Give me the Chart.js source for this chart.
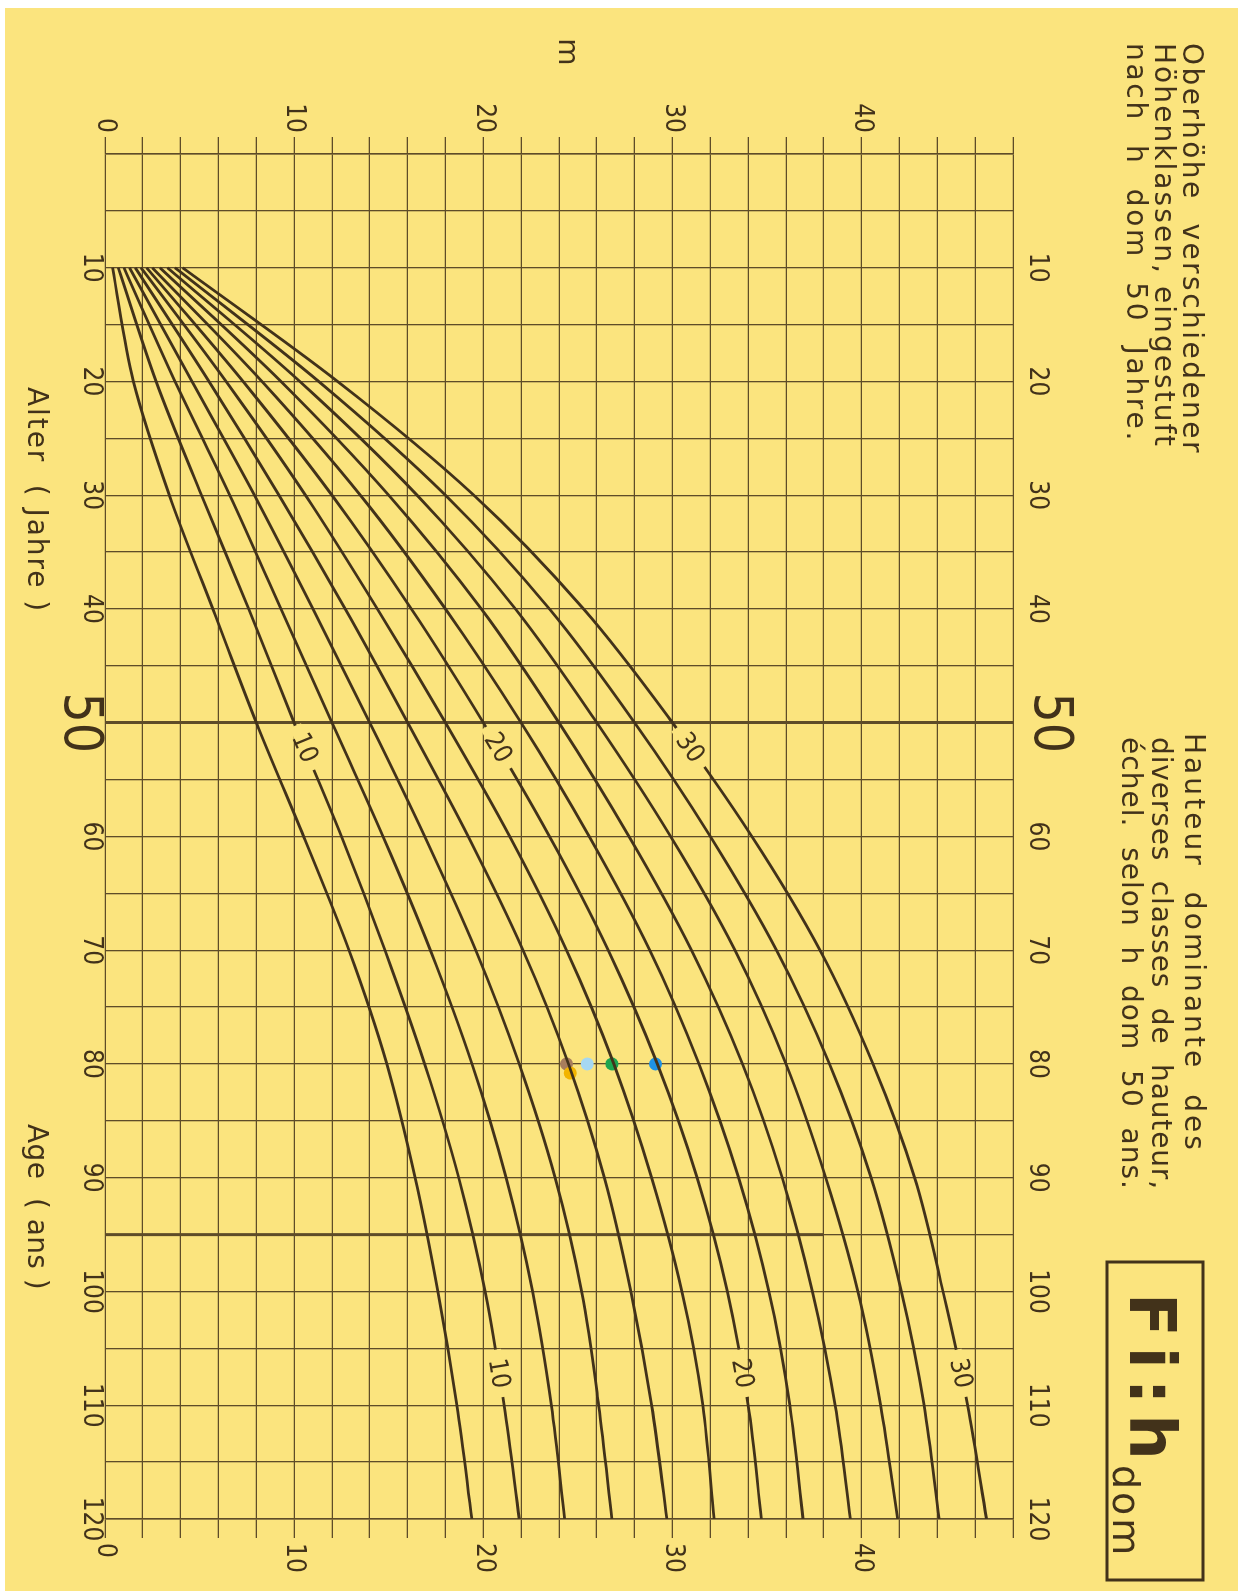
<!DOCTYPE html>
<html>
<head>
<meta charset="utf-8">
<script src="https://cdn.jsdelivr.net/npm/chart.js@4.4.0/dist/chart.umd.min.js"></script>
<style>
  html, body { margin: 0; padding: 0; background: #fff; }
  body { width: 1245px; height: 1591px; overflow: hidden; position: relative; }
  /* the chart is drawn landscape and turned a quarter clockwise, like the printed sheet */
  #wrap { position: absolute; left: 0; top: 0; width: 1591px; height: 1245px;
          transform-origin: 0 0; transform: translateX(1245px) rotate(90deg); }
</style>
</head>
<body>
<div id="wrap"><canvas id="myChart" width="1591" height="1245"></canvas></div>
<script>
// age (years) and height classes (h dom at 50 years)
var ages = [10, 20, 30, 40, 50, 60, 70, 80, 90, 100, 110, 120];
var classes = [8, 10, 12, 14, 16, 18, 20, 22, 24, 26, 28, 30];

// dominant height (m) per class, read at the ages above
var h8  = [0.4, 1.5, 3.4, 5.7, 8, 10.5, 12.9, 14.9, 16.4, 17.6, 18.6, 19.4];
var h10 = [0.7, 2.7, 5.1, 7.6, 10, 12.5, 14.8, 16.9, 18.7, 20.1, 21.1, 21.9];
var h12 = [1.0, 3.7, 6.6, 9.3, 12, 14.7, 17.2, 19.4, 21.2, 22.6, 23.6, 24.3];
var h14 = [1.3, 4.6, 7.9, 11.0, 14, 16.9, 19.6, 21.9, 23.8, 25.2, 26.1, 26.8];
var h16 = [1.6, 5.5, 9.2, 12.7, 16, 19.2, 22.1, 24.5, 26.4, 27.8, 28.9, 29.7];
var h18 = [1.9, 6.4, 10.6, 14.4, 18, 21.4, 24.4, 26.9, 28.9, 30.5, 31.6, 32.2];
var h20 = [2.2, 7.3, 12.0, 16.2, 20, 23.5, 26.6, 29.2, 31.3, 32.9, 34.0, 34.7];
var h22 = [2.5, 8.3, 13.5, 18.0, 22, 25.6, 28.8, 31.4, 33.5, 35.1, 36.2, 36.9];
var h24 = [2.9, 9.3, 15.0, 19.9, 24, 27.7, 31.0, 33.7, 35.8, 37.4, 38.6, 39.4];
var h26 = [3.3, 10.3, 16.5, 21.7, 26, 29.9, 33.3, 36.0, 38.1, 39.8, 41.0, 41.9];
var h28 = [3.7, 11.3, 18.0, 23.5, 28, 32.0, 35.5, 38.3, 40.5, 42.1, 43.3, 44.1];
var h30 = [4.1, 12.3, 19.5, 25.3, 30, 34.2, 37.8, 40.6, 42.8, 44.3, 45.6, 46.6];
var curves = [h8, h10, h12, h14, h16, h18, h20, h22, h24, h26, h28, h30];

// classes that carry a number on the curve, and where
var labelClasses = [10, 20, 30];
var labelAges = [52.2, 107.2];

// coloured marks at 80 years
var dotAges = [80, 80, 80, 80, 80.8];
var dotHeights = [24.4, 25.5, 26.8, 29.1, 24.6];
var dotColors = ['#a87d5c', '#a6d8f2', '#1ea650', '#1f93e6', '#f2b400'];

// heavy rule at 95 years, drawn up to 38 m
var ruleAges = [95, 95];
var ruleHeights = [0, 38];

var ageTicks = [10, 20, 30, 40, 50, 60, 70, 80, 90, 100, 110, 120];
var heightTicks = [0, 10, 20, 30, 40];

var bg = '#fbe47e';
var ink = '#42321a';
var gridInk = '#5e4c28';
var numFont = '"Liberation Sans Narrow", "DejaVu Sans Condensed", sans-serif';
var textFont = '"DejaVu Sans", sans-serif';

function fitText(ctx, str, x, y, w) {
  ctx.letterSpacing = '0px';
  var m = ctx.measureText(str).width;
  ctx.letterSpacing = ((w - m) / str.length) + 'px';
  ctx.fillText(str, x, y);
  ctx.letterSpacing = '0px';
}

var datasets = classes.map(function (c, i) {
  return {
    label: String(c),
    data: ages.map(function (a, j) { return { x: a, y: curves[i][j] }; }),
    borderColor: ink,
    borderWidth: 2.8,
    pointRadius: 0,
    fill: false,
    cubicInterpolationMode: 'monotone'
  };
});
datasets.push({
  label: 'rule',
  data: ruleAges.map(function (a, j) { return { x: a, y: ruleHeights[j] }; }),
  borderColor: gridInk,
  borderWidth: 3,
  pointRadius: 0,
  fill: false
});
datasets.push({
  label: 'marks',
  data: dotAges.map(function (a, j) { return { x: a, y: dotHeights[j] }; }),
  showLine: false,
  pointRadius: 6.5,
  pointBorderWidth: 0,
  pointBackgroundColor: dotColors,
  borderColor: dotColors
});

var paper = {
  id: 'paper',
  beforeDraw: function (chart) {
    var ctx = chart.ctx;
    ctx.save();
    ctx.fillStyle = '#ffffff';
    ctx.fillRect(0, 0, chart.width, chart.height);
    ctx.fillStyle = bg;
    ctx.fillRect(8, 7, 1583, 1233);
    ctx.restore();
  },
  afterDatasetsDraw: function (chart) {
    var ctx = chart.ctx;
    ctx.save();
    labelClasses.forEach(function (c) {
      var pts = chart.getDatasetMeta(classes.indexOf(c)).data;
      labelAges.forEach(function (a) {
        var j = 0;
        while (j < ages.length - 2 && ages[j + 1] < a) j++;
        var t = (a - ages[j]) / (ages[j + 1] - ages[j]);
        var p0 = pts[j], p1 = pts[j + 1];
        var x = p0.x + t * (p1.x - p0.x);
        var y = p0.y + t * (p1.y - p0.y);
        var ang = Math.atan2(p1.y - p0.y, p1.x - p0.x);
        ctx.save();
        ctx.translate(x, y);
        ctx.rotate(ang);
        ctx.fillStyle = bg;
        ctx.fillRect(-24, -6, 48, 12);
        ctx.fillStyle = ink;
        ctx.font = '26px ' + numFont;
        ctx.textAlign = 'center';
        ctx.textBaseline = 'middle';
        ctx.fillText(String(c), 0, 1);
        ctx.restore();
      });
    });
    ctx.restore();
  },
  afterDraw: function (chart) {
    var ctx = chart.ctx;
    ctx.save();
    ctx.fillStyle = ink;
    ctx.textBaseline = 'alphabetic';
    ctx.textAlign = 'left';
    ctx.font = '28px ' + textFont;
    fitText(ctx, 'Oberhöhe  verschiedener', 43, 62, 412);
    fitText(ctx, 'Höhenklassen, eingestuft', 43, 90, 405);
    fitText(ctx, 'nach  h  dom  50  Jahre.', 43, 118, 400);
    fitText(ctx, 'Hauteur  dominante  des', 733, 60, 420);
    fitText(ctx, 'diverses  classes  de  hauteur,', 737, 93, 453);
    fitText(ctx, 'échel.  selon  h  dom  50  ans.', 737, 123, 453);
    fitText(ctx, 'Alter  ( Jahre )', 387, 1217, 226);
    fitText(ctx, 'Age  ( ans )', 1124, 1217, 166);
    ctx.textAlign = 'center';
    ctx.fillText('m', 52, 686);

    // title box
    ctx.strokeStyle = ink;
    ctx.lineWidth = 3;
    ctx.strokeRect(1262, 42, 318, 96);
    ctx.textAlign = 'left';
    ctx.font = 'bold 64px ' + textFont;
    ctx.letterSpacing = '10px';
    ctx.fillText('Fi:h', 1293, 115);
    ctx.font = '38px ' + textFont;
    ctx.letterSpacing = '3px';
    ctx.fillText('dom', 1465, 132);
    ctx.letterSpacing = '0px';
    ctx.restore();
  }
};

function ageFont(ctx) {
  if (ctx.tick && ctx.tick.value === 50) return { family: numFont, size: 53, lineHeight: 1 };
  return { family: numFont, size: 26, lineHeight: 1.1 };
}
function ageLabel(v) { return ageTicks.indexOf(v) >= 0 ? String(v) : ''; }
function heightLabel(v) { return heightTicks.indexOf(v) >= 0 ? String(v) : ''; }

var ctx = document.getElementById('myChart').getContext('2d');
var myChart = new Chart(ctx, {
  type: 'line',
  data: { datasets: datasets },
  plugins: [paper],
  options: {
    responsive: false,
    animation: false,
    events: [],
    layout: { padding: 0 },
    plugins: { legend: { display: false }, tooltip: { enabled: false } },
    scales: {
      x: {
        type: 'linear', position: 'bottom', min: 0, max: 120,
        afterFit: function (s) { s.height = 105; },
        grid: {
          color: gridInk, drawTicks: false,
          lineWidth: function (c) { return c.tick && c.tick.value === 50 ? 3 : 1.3; }
        },
        border: { display: false },
        ticks: { stepSize: 5, autoSkip: false, maxRotation: 0, padding: 0, color: ink, font: ageFont, callback: ageLabel }
      },
      x2: {
        type: 'linear', position: 'top', min: 0, max: 120,
        afterFit: function (s) { s.height = 232; },
        grid: { display: false },
        border: { display: false },
        ticks: { stepSize: 5, autoSkip: false, maxRotation: 0, padding: 1, color: ink, font: ageFont, callback: ageLabel }
      },
      y: {
        type: 'linear', position: 'left', min: 0, max: 48,
        afterFit: function (s) { s.width = 154; },
        grid: { color: gridInk, lineWidth: 1.3, tickLength: 17 },
        border: { color: gridInk, width: 1.5 },
        ticks: { stepSize: 2, autoSkip: false, padding: 4, color: ink, font: { family: numFont, size: 26 }, callback: heightLabel }
      },
      y2: {
        type: 'linear', position: 'right', min: 0, max: 48,
        afterFit: function (s) { s.width = 72; },
        grid: { color: gridInk, lineWidth: 1.3, tickLength: 19, drawOnChartArea: false },
        border: { color: gridInk, width: 1.5 },
        ticks: { stepSize: 2, autoSkip: false, padding: 5, color: ink, font: { family: numFont, size: 26 }, callback: heightLabel }
      }
    }
  }
});
</script>
</body>
</html>
